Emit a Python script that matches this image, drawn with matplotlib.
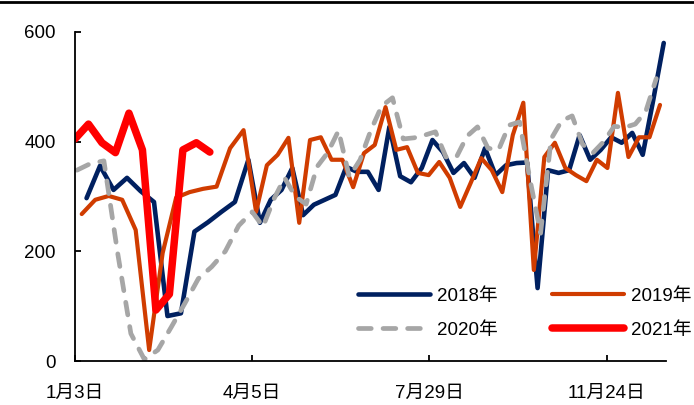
import numpy as np
import matplotlib
matplotlib.use("Agg")
import matplotlib.pyplot as plt
from matplotlib.lines import Line2D
from matplotlib.ticker import NullLocator

plt.rcParams["font.family"] = ["Liberation Sans", "Noto Sans CJK SC"]
plt.rcParams["font.size"] = 13.5

# -----------------------------
#  Data (weekly readings)
# -----------------------------
# x axis: days counted from 1月3日; the labelled dates are not evenly spaced
tick_days = [0, 92, 207, 325]
tick_labels = ["1月3日", "4月5日", "7月29日", "11月24日"]

# first week of each year, in days after 1月3日
start_2018 = 6
start_2019 = 3.5
start_2020 = 1
start_2021 = 0

v2018 = [297, 356, 312, 334, 310, 290, 82, 87, 236, 253,
         272, 290, 367, 252, 294, 312, 352, 266, 285, 294,
         303, 354, 345, 345, 312, 427, 337, 326, 352, 403,
         381, 343, 361, 334, 388, 339, 357, 361, 362, 133,
         348, 343, 348, 412, 367, 385, 408, 398, 416, 376,
         476, 580]

v2019 = [268, 294, 301, 294, 239, 20, 197, 298, 308, 314,
         318, 388, 421, 272, 357, 376, 407, 252, 403, 408,
         367, 367, 317, 379, 394, 463, 385, 390, 343, 339,
         363, 334, 281, 325, 370, 348, 308, 412, 471, 166,
         372, 398, 352, 339, 328, 367, 352, 489, 372, 408,
         408, 467]

v2020 = [348, 360, 365, 200, 50, 3, 20, 62, 105, 150,
         172, 200, 247, 272, 245, 295, 334, 300, 286, 354,
         380, 420, 336, 367, 421, 465, 480, 405, 407, 412,
         418, 372, 372, 410, 427, 388, 385, 430, 436, 330,
         233, 405, 438, 447, 395, 380, 400, 428, 426, 432,
         455, 515]

v2021 = [405, 432, 398, 380, 452, 385, 93, 122, 385, 398, 381]

# -----------------------------
#  Uneven date axis
# -----------------------------
knot_days = np.array([-100.0] + tick_days + [500.0])
last_slope = 1.0 / (tick_days[3] - tick_days[2])
knot_pos = np.array([-100.0 / (tick_days[1] - tick_days[0]), 0, 1, 2, 3,
                     3 + (500 - tick_days[3]) * last_slope])


def fwd(d):
    return np.interp(d, knot_days, knot_pos)


def inv(p):
    return np.interp(p, knot_pos, knot_days)


def weeks(start, vals):
    return start + 7 * np.arange(len(vals))


# -----------------------------
#  Plot
# -----------------------------
fig = plt.figure(figsize=(6.94, 4.05), dpi=100)
ax = fig.add_axes([75 / 694, 44 / 405, 591 / 694, 329 / 405])

h18, = ax.plot(weeks(start_2018, v2018), v2018, color="#002060", lw=3.3,
               solid_joinstyle="round", solid_capstyle="round")
h19, = ax.plot(weeks(start_2019, v2019), v2019, color="#D03C00", lw=3.0,
               solid_joinstyle="round", solid_capstyle="round")
h20, = ax.plot(weeks(start_2020, v2020), v2020, color="#A6A6A6", lw=3.4,
               dashes=(2.7, 2.5), dash_capstyle="round", dash_joinstyle="round")
h21, = ax.plot(weeks(start_2021, v2021), v2021, color="#FF0000", lw=5.4,
               solid_joinstyle="round", solid_capstyle="round")

ax.set_xscale("function", functions=(fwd, inv))
ax.set_xlim(0, 364.5)
ax.set_ylim(0, 600)
ax.set_xticks(tick_days)
ax.set_xticklabels(tick_labels)
ax.xaxis.set_minor_locator(NullLocator())
ax.set_yticks([0, 200, 400, 600])

for s in ["top", "right"]:
    ax.spines[s].set_visible(False)
for s in ["left", "bottom"]:
    ax.spines[s].set_linewidth(1.3)
ax.tick_params(axis="both", direction="in", length=4, width=1.3, colors="black")
ax.tick_params(axis="x", pad=17)
ax.tick_params(axis="y", pad=14)

fig.legend([h18, h20, h19, h21], ["2018年", "2020年", "2019年", "2021年"],
           ncol=2, frameon=False, loc="center",
           bbox_to_anchor=(525 / 694, 1 - 313 / 405),
           handlelength=3.8, handletextpad=0.4, columnspacing=2.9,
           labelspacing=0.9)

# rule across the top of the figure
fig.add_artist(Line2D([0, 1], [0.996, 0.996], transform=fig.transFigure,
                      color="black", lw=2))

fig.savefig("out.png", dpi=100)
